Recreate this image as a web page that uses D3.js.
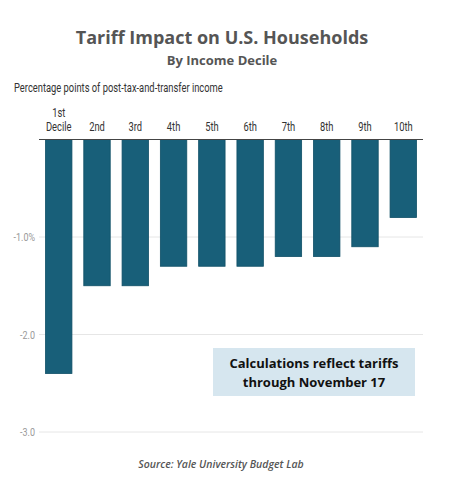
<!DOCTYPE html>
<html>
<head>
<meta charset="utf-8">
<script src="https://cdn.jsdelivr.net/npm/d3@7"></script>
<style>
  body { margin: 0; background: #fff; }
</style>
</head>
<body>
<div id="chart"></div>
<script>
var deciles = ["1st", "2nd", "3rd", "4th", "5th", "6th", "7th", "8th", "9th", "10th"];
var impact = [-2.4, -1.5, -1.5, -1.3, -1.3, -1.3, -1.2, -1.2, -1.1, -0.8];
var yTicks = [-1, -2, -3];
var yTickLabels = ["-1.0%", "-2.0", "-3.0"];

var w = 450;
var h = 504;
var narrow = "Roboto, sans-serif";
var squeeze = 0.78;
var titleFont = "'Open Sans', 'Noto Sans', sans-serif";

var svg = d3.select("#chart")
    .append("svg")
    .attr("width", w)
    .attr("height", h);

// condensed-looking text: Roboto squeezed horizontally
function narrowText(px, py, size, fill, anchor, str){
    return svg.append("text")
        .attr("transform", "translate(" + px + "," + py + ") scale(" + squeeze + ",1)")
        .attr("text-anchor", anchor)
        .style("font-family", narrow)
        .style("font-size", size + "px")
        .style("fill", fill)
        .text(str);
}

var x = d3.scaleBand()
    .domain(deciles)
    .range([39, 423])
    .paddingInner(0.31)
    .paddingOuter(0.17);

var y = d3.scaleLinear()
    .domain([-3, 0])
    .range([432, 139.5]);

// titles
svg.append("text")
    .attr("x", 222).attr("y", 44)
    .attr("text-anchor", "middle")
    .style("font-family", titleFont)
    .style("font-weight", "bold")
    .style("font-size", "18px")
    .style("fill", "#555")
    .text("Tariff Impact on U.S. Households");

svg.append("text")
    .attr("x", 222).attr("y", 65)
    .attr("text-anchor", "middle")
    .style("font-family", titleFont)
    .style("font-weight", "bold")
    .style("font-size", "13px")
    .style("fill", "#555")
    .text("By Income Decile");

narrowText(14, 92, 12, "#333", "start", "Percentage points of post-tax-and-transfer income");

// gridlines
svg.selectAll("line.grid")
    .data(yTicks)
    .enter()
    .append("line")
    .attr("class", "grid")
    .attr("x1", 39).attr("x2", 423)
    .attr("y1", function(d){ return y(d); })
    .attr("y2", function(d){ return y(d); })
    .style("stroke", "#e6e6e6")
    .style("stroke-width", 1);

yTicks.forEach(function(d, i){
    narrowText(35, y(d) + 4, 11.5, "#999", "end", yTickLabels[i]);
});

// bars
svg.selectAll("rect.bar")
    .data(impact)
    .enter()
    .append("rect")
    .attr("class", "bar")
    .attr("x", function(d, i){ return x(deciles[i]); })
    .attr("y", y(0))
    .attr("width", x.bandwidth())
    .attr("height", function(d){ return y(d) - y(0); })
    .style("fill", "#185f79")
    .style("stroke", "#0f4f66")
    .style("stroke-width", 0.8);

// zero axis line
svg.append("line")
    .attr("x1", 39).attr("x2", 423)
    .attr("y1", y(0)).attr("y2", y(0))
    .style("stroke", "#444")
    .style("stroke-width", 1.2);

// category labels
deciles.forEach(function(d, i){
    var cx = x(d) + x.bandwidth() / 2;
    narrowText(cx, 131, 12, "#333", "middle", i === 0 ? "Decile" : d);
});
narrowText(x(deciles[0]) + x.bandwidth() / 2, 117, 12, "#333", "middle", "1st");

// annotation box
svg.append("rect")
    .attr("x", 213).attr("y", 348)
    .attr("width", 202).attr("height", 48)
    .style("fill", "#d6e6ef");

svg.append("text")
    .attr("x", 314).attr("y", 368)
    .attr("text-anchor", "middle")
    .style("font-family", titleFont)
    .style("font-weight", "bold")
    .style("font-size", "13px")
    .style("fill", "#111")
    .text("Calculations reflect tariffs");

svg.append("text")
    .attr("x", 314).attr("y", 387)
    .attr("text-anchor", "middle")
    .style("font-family", titleFont)
    .style("font-weight", "bold")
    .style("font-size", "13px")
    .style("fill", "#111")
    .text("through November 17");

// source
svg.append("text")
    .attr("x", 221).attr("y", 468)
    .attr("text-anchor", "middle")
    .style("font-family", titleFont)
    .style("font-style", "italic")
    .style("font-weight", "600")
    .style("font-size", "10.5px")
    .style("fill", "#555")
    .text("Source: Yale University Budget Lab");
</script>
</body>
</html>
